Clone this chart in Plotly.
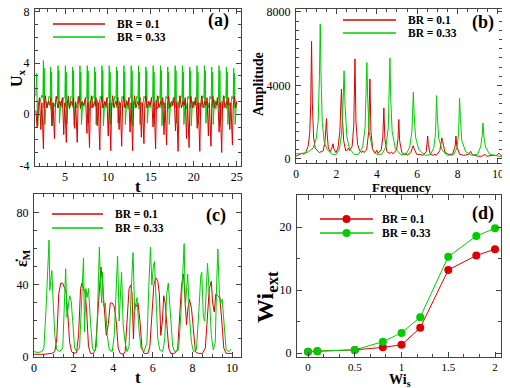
import plotly.graph_objects as go

# ---------------- data ----------------
# (a) U_x time series
ua_green_t = [
    1.60, 1.70, 1.76, 1.82, 1.95, 2.15, 2.30,
    2.42, 2.48, 2.53, 2.58, 2.65, 2.80, 2.96, 3.12,
    3.27, 3.33, 3.38, 3.43, 3.50, 3.65, 3.81, 3.97,
    4.12, 4.18, 4.23, 4.28, 4.35, 4.50, 4.66, 4.82,
    4.98, 5.04, 5.09, 5.14, 5.21, 5.36, 5.52, 5.68,
    5.83, 5.89, 5.94, 5.99, 6.06, 6.21, 6.37, 6.53,
    6.68, 6.74, 6.79, 6.84, 6.91, 7.06, 7.22, 7.38,
    7.53, 7.59, 7.64, 7.69, 7.76, 7.91, 8.07, 8.23,
    8.39, 8.45, 8.50, 8.55, 8.62, 8.77, 8.93, 9.09,
    9.24, 9.30, 9.35, 9.40, 9.47, 9.62, 9.78, 9.94,
    10.09, 10.15, 10.20, 10.25, 10.32, 10.47, 10.63, 10.79,
    10.94, 11.00, 11.05, 11.10, 11.17, 11.32, 11.48, 11.64,
    11.80, 11.86, 11.91, 11.96, 12.03, 12.18, 12.34, 12.50,
    12.65, 12.71, 12.76, 12.81, 12.88, 13.03, 13.19, 13.35,
    13.50, 13.56, 13.61, 13.66, 13.73, 13.88, 14.04, 14.20,
    14.36, 14.42, 14.47, 14.52, 14.59, 14.74, 14.90, 15.06,
    15.21, 15.27, 15.32, 15.37, 15.44, 15.59, 15.75, 15.91,
    16.06, 16.12, 16.17, 16.22, 16.29, 16.44, 16.60, 16.76,
    16.91, 16.97, 17.02, 17.07, 17.14, 17.29, 17.45, 17.61,
    17.77, 17.83, 17.88, 17.93, 18.00, 18.15, 18.31, 18.47,
    18.62, 18.68, 18.73, 18.78, 18.85, 19.00, 19.16, 19.32,
    19.47, 19.53, 19.58, 19.63, 19.70, 19.85, 20.01, 20.17,
    20.32, 20.38, 20.43, 20.48, 20.55, 20.70, 20.86, 21.02,
    21.18, 21.24, 21.29, 21.34, 21.41, 21.56, 21.72, 21.88,
    22.03, 22.09, 22.14, 22.19, 22.26, 22.41, 22.57, 22.73,
    22.88, 22.94, 22.99, 23.04, 23.11, 23.26, 23.42, 23.58,
    23.74, 23.80, 23.85, 23.90, 23.97, 24.12, 24.28, 24.44,
    24.59, 24.65, 24.70, 24.75, 24.82, 24.97,
]
ua_green_y = [
    1.4, 3.2, 0.4, -0.9, 0.6, 1.1, 1.5,
    1.3, 4.2, 0.5, 3.6, -0.8, 1.0, 0.5, 1.4,
    1.3, 3.7, 0.4, 3.3, -0.9, 0.9, 0.6, 1.4,
    1.2, 3.8, 0.5, 3.4, -0.7, 1.0, 0.5, 1.3,
    1.3, 3.8, 0.6, 3.3, -0.8, 1.1, 0.4, 1.4,
    1.3, 3.7, 0.5, 3.4, -0.9, 1.0, 0.5, 1.4,
    1.2, 3.8, 0.4, 3.3, -0.8, 0.9, 0.6, 1.3,
    1.3, 3.8, 0.5, 3.4, -0.7, 1.0, 0.5, 1.4,
    1.3, 3.7, 0.6, 3.3, -0.8, 1.1, 0.4, 1.4,
    1.2, 3.8, 0.5, 3.4, -0.9, 1.0, 0.5, 1.3,
    1.3, 3.8, 0.4, 3.3, -0.8, 0.9, 0.6, 1.4,
    1.3, 3.7, 0.5, 3.4, -0.7, 1.0, 0.5, 1.4,
    1.2, 3.8, 0.6, 3.3, -0.8, 1.1, 0.4, 1.3,
    1.3, 3.8, 0.5, 3.4, -0.9, 1.0, 0.5, 1.4,
    1.3, 3.8, 0.4, 3.3, -0.8, 0.9, 0.6, 1.4,
    1.2, 3.7, 0.5, 3.4, -0.7, 1.0, 0.5, 1.3,
    1.3, 3.8, 0.6, 3.3, -0.8, 1.1, 0.4, 1.4,
    1.3, 3.8, 0.5, 3.4, -0.9, 1.0, 0.5, 1.4,
    1.2, 3.7, 0.4, 3.3, -0.8, 0.9, 0.6, 1.3,
    1.3, 3.8, 0.5, 3.4, -0.7, 1.0, 0.5, 1.4,
    1.3, 3.8, 0.6, 3.3, -0.8, 1.1, 0.4, 1.4,
    1.2, 3.7, 0.5, 3.4, -0.9, 1.0, 0.5, 1.3,
    1.3, 3.8, 0.4, 3.3, -0.8, 0.9, 0.6, 1.4,
    1.3, 3.8, 0.5, 3.4, -0.7, 1.0, 0.5, 1.4,
    1.2, 3.7, 0.6, 3.3, -0.8, 1.1, 0.4, 1.3,
    1.3, 3.8, 0.5, 3.4, -0.9, 1.0, 0.5, 1.4,
    1.3, 3.7, 0.4, 3.3, -0.8, 0.9, 0.6, 1.4,
    1.2, 3.6, 0.5, 3.2, -0.8, 1.0,
]
ua_red_t = [
    1.60, 1.75, 1.90,
    2.03, 2.18, 2.30, 2.48, 2.58, 2.70, 2.86, 3.06, 3.20,
    3.32, 3.47, 3.59, 3.77, 3.87, 3.99, 4.15, 4.35, 4.49,
    4.70, 4.85, 4.97, 5.15, 5.25, 5.37, 5.53, 5.73, 5.87,
    5.97, 6.12, 6.24, 6.42, 6.52, 6.64, 6.80, 7.00, 7.14,
    7.40, 7.55, 7.67, 7.85, 7.95, 8.07, 8.23, 8.43, 8.57,
    8.60, 8.75, 8.87, 9.05, 9.15, 9.27, 9.43, 9.63, 9.77,
    9.88, 10.03, 10.15, 10.33, 10.43, 10.55, 10.71, 10.91, 11.05,
    11.15, 11.30, 11.42, 11.60, 11.70, 11.82, 11.98, 12.18, 12.32,
    12.43, 12.58, 12.70, 12.88, 12.98, 13.10, 13.26, 13.46, 13.60,
    13.74, 13.89, 14.01, 14.19, 14.29, 14.41, 14.57, 14.77, 14.91,
    15.10, 15.25, 15.37, 15.55, 15.65, 15.77, 15.93, 16.13, 16.27,
    16.38, 16.53, 16.65, 16.83, 16.93, 17.05, 17.21, 17.41, 17.55,
    17.72, 17.87, 17.99, 18.17, 18.27, 18.39, 18.55, 18.75, 18.89,
    19.00, 19.15, 19.27, 19.45, 19.55, 19.67, 19.83, 20.03, 20.17,
    20.25, 20.40, 20.52, 20.70, 20.80, 20.92, 21.08, 21.28, 21.42,
    21.55, 21.70, 21.82, 22.00, 22.10, 22.22, 22.38, 22.58, 22.72,
    22.80, 22.95, 23.07, 23.25, 23.35, 23.47, 23.63, 23.83, 23.97,
    24.05, 24.20, 24.32, 24.50, 24.60, 24.72, 24.88, 25.00,
]
ua_red_y = [
    0.3, -1.0, 0.8,
    1.3, -1.2, 0.9, -2.7, 0.7, 1.45, 0.5, 1.0, 0.7,
    1.3, -0.9, 0.9, -1.9, 0.7, 1.4, 0.5, 1.0, 0.7,
    1.3, -1.6, 0.9, -2.2, 0.7, 1.45, 0.5, 1.0, 0.7,
    1.3, -1.1, 0.9, -2.2, 0.7, 1.4, 0.5, 1.0, 0.7,
    1.3, -1.5, 0.9, -2.6, 0.7, 1.45, 0.5, 1.0, 0.7,
    1.3, -0.9, 0.9, -2.8, 0.7, 1.4, 0.5, 1.0, 0.7,
    1.3, -1.7, 0.9, -2.85, 0.7, 1.45, 0.5, 1.0, 0.7,
    1.3, -1.2, 0.9, -2.5, 0.7, 1.4, 0.5, 1.0, 0.7,
    1.3, -1.4, 0.9, -2.85, 0.7, 1.45, 0.5, 1.0, 0.7,
    1.3, -1.8, 0.9, -2.3, 0.7, 1.4, 0.5, 1.0, 0.7,
    1.3, -1.0, 0.9, -2.7, 0.7, 1.45, 0.5, 1.0, 0.7,
    1.3, -1.6, 0.9, -2.4, 0.7, 1.4, 0.5, 1.0, 0.7,
    1.3, -1.3, 0.9, -2.9, 0.7, 1.45, 0.5, 1.0, 0.7,
    1.3, -1.9, 0.9, -2.6, 0.7, 1.4, 0.5, 1.0, 0.7,
    1.3, -1.1, 0.9, -2.9, 0.7, 1.45, 0.5, 1.0, 0.7,
    1.3, -1.7, 0.9, -2.5, 0.7, 1.4, 0.5, 1.0, 0.7,
    1.3, -1.4, 0.9, -3.0, 0.7, 1.45, 0.5, 1.0, 0.7,
    1.3, -1.2, 0.9, -2.4, 0.7, 1.4, 0.5, 1.0,
]

# (b) amplitude spectra
fb_red_f = [
    0.0, 0.15, 0.3, 0.4, 0.5, 0.6, 0.68, 0.73, 0.77, 0.81, 0.87, 0.95,
    1.05, 1.15, 1.25, 1.35, 1.43, 1.48, 1.51, 1.54, 1.6, 1.7, 1.78, 1.83,
    1.88, 1.98, 2.08, 2.17, 2.21, 2.25, 2.29, 2.36, 2.46, 2.55, 2.6, 2.66,
    2.78, 2.86, 2.92, 2.97, 3.05, 3.15, 3.26, 3.3, 3.36, 3.5, 3.6, 3.66,
    3.71, 3.8, 3.92, 4.0, 4.06, 4.22, 4.3, 4.35, 4.4, 4.5, 4.65, 4.73,
    4.8, 4.98, 5.05, 5.09, 5.13, 5.24, 5.35, 5.42, 5.5, 5.68, 5.76, 5.8,
    5.85, 5.98, 6.15, 6.3, 6.45, 6.5, 6.52, 6.55, 6.65, 6.8, 6.88, 6.95,
    7.12, 7.2, 7.22, 7.26, 7.38, 7.58, 7.75, 7.88, 7.92, 7.96, 8.1, 8.3,
    8.55, 8.65, 8.72, 9.0, 9.2, 9.35, 9.45, 9.75, 9.95, 10.05, 10.2,
]
fb_red_a = [
    150, 220, 320, 250, 400, 700, 1400, 3000, 6400, 3000, 1200, 600,
    450, 350, 400, 450, 900, 1500, 2200, 1400, 600, 400, 600, 830,
    550, 350, 600, 1500, 2500, 3800, 2400, 1000, 450, 500, 600, 450,
    700, 1800, 5450, 2000, 800, 450, 350, 450, 350, 500, 1500, 4350,
    1500, 500, 300, 480, 300, 500, 1200, 2780, 1100, 400, 300, 380,
    280, 500, 1100, 2150, 1000, 350, 250, 320, 200, 350, 600, 720,
    550, 250, 250, 200, 400, 900, 1250, 800, 250, 200, 260, 200,
    450, 1000, 1150, 950, 350, 250, 250, 700, 1250, 700, 250, 200,
    250, 420, 250, 150, 150, 250, 150, 200, 200, 320, 150,
]
fb_green_f = [
    0.0, 0.3, 0.6, 0.85, 1.0, 1.1, 1.16, 1.2, 1.24, 1.3, 1.4, 1.55,
    1.8, 2.0, 2.15, 2.25, 2.33, 2.38, 2.43, 2.52, 2.65, 2.9, 3.1, 3.3,
    3.42, 3.48, 3.51, 3.55, 3.62, 3.78, 4.0, 4.25, 4.45, 4.57, 4.62, 4.65,
    4.69, 4.76, 4.92, 5.2, 5.45, 5.63, 5.74, 5.78, 5.81, 5.85, 5.92, 6.08,
    6.4, 6.65, 6.82, 6.91, 6.94, 6.96, 7.0, 7.07, 7.25, 7.5, 7.8, 7.97,
    8.05, 8.08, 8.1, 8.14, 8.21, 8.4, 8.7, 9.0, 9.15, 9.22, 9.26, 9.3,
    9.38, 9.6, 10.2,
]
fb_green_a = [
    280, 300, 380, 600, 1100, 2100, 4500, 7350, 4500, 2000, 900, 500,
    250, 260, 550, 1300, 3000, 4800, 2900, 1200, 550, 250, 260, 650,
    1700, 3500, 5250, 3300, 1500, 550, 250, 260, 650, 1700, 3500, 5500,
    3300, 1500, 550, 230, 250, 650, 1500, 2600, 3630, 2400, 1200, 500,
    200, 230, 600, 1400, 2400, 3450, 2300, 1100, 450, 200, 220, 600,
    1400, 2300, 3300, 2200, 1000, 400, 200, 260, 700, 1300, 1960, 1250,
    650, 250, 120,
]

# (c) strain rate time series
ec_red_t = [
    0.0, 0.5, 0.9, 1.05, 1.15, 1.25, 1.35, 1.45, 1.55, 1.62, 1.7, 1.8, 1.9,
    2.0, 2.15, 2.25, 2.35, 2.42, 2.5, 2.58, 2.66, 2.75, 2.85, 3.0, 3.1,
    3.2, 3.3, 3.38, 3.45, 3.52, 3.58, 3.65, 3.75, 3.85, 3.95, 4.05, 4.15,
    4.25, 4.35, 4.5, 4.6, 4.7, 4.8, 4.88, 4.95, 5.02, 5.08, 5.15, 5.25,
    5.35, 5.45, 5.55, 5.75, 5.85, 5.95, 6.05, 6.15, 6.25, 6.33, 6.4, 6.48,
    6.55, 6.62, 6.7, 6.8, 6.9, 7.1, 7.25, 7.35, 7.45, 7.55, 7.62, 7.7,
    7.78, 7.85, 7.95, 8.05, 8.15, 8.3, 8.5, 8.65, 8.75, 8.85, 8.95, 9.02,
    9.1, 9.18, 9.28, 9.38, 9.48, 9.58, 9.7, 10.0,
]
ec_red_y = [
    1.5, 1.5, 2, 3, 10, 35, 41, 41, 38, 36, 25, 8, 3,
    2, 2.5, 12, 38, 41, 38, 36, 25, 6, 2, 2, 4,
    20, 42, 50, 42, 30, 25, 12, 18, 30, 30, 28, 20,
    5, 2, 1.5, 3, 20, 38, 40, 35, 10, 30, 28, 30,
    20, 5, 2, 2, 6, 25, 40, 44, 42, 35, 12, 20,
    34, 30, 20, 5, 2, 2, 4, 20, 40, 46, 30, 18,
    28, 32, 27, 15, 3, 2, 2, 5, 25, 38, 42, 30,
    25, 35, 34, 33, 20, 5, 2, 2,
]
ec_green_t = [
    0.0, 0.2, 0.4, 0.5, 0.6, 0.7, 0.76, 0.8, 0.85, 0.9, 0.97, 1.05, 1.15,
    1.3, 1.45, 1.52, 1.6, 1.66, 1.73, 1.8, 1.88, 1.95, 2.05, 2.15, 2.3,
    2.4, 2.5, 2.55, 2.62, 2.68, 2.75, 2.85, 2.95, 3.05, 3.15, 3.22, 3.3,
    3.36, 3.42, 3.46, 3.52, 3.6, 3.7, 3.8, 3.95, 4.05, 4.15, 4.22, 4.3,
    4.36, 4.42, 4.5, 4.6, 4.7, 4.8, 4.9, 5.0, 5.08, 5.14, 5.2, 5.3,
    5.4, 5.55, 5.7, 5.8, 5.88, 5.95, 6.02, 6.08, 6.16, 6.25, 6.35, 6.5,
    6.6, 6.7, 6.78, 6.85, 6.92, 7.0, 7.1, 7.3, 7.42, 7.52, 7.58, 7.64,
    7.7, 7.76, 7.85, 7.95, 8.05, 8.2, 8.32, 8.42, 8.47, 8.55, 8.62, 8.7,
    8.76, 8.85, 8.95, 9.05, 9.15, 9.22, 9.28, 9.36, 9.42, 9.5, 9.6, 9.7,
    9.85, 9.95,
]
ec_green_y = [
    3, 2.5, 3, 5, 25, 55, 65, 37, 45, 48, 30, 12, 4,
    3, 5, 25, 49, 22, 30, 34, 31, 18, 5, 3, 5,
    30, 55, 14, 38, 33, 38, 20, 5, 3, 6, 30, 61,
    40, 30, 47, 28, 30, 12, 4, 3, 12, 45, 56, 20,
    32, 47, 18, 8, 3, 6, 35, 58, 25, 30, 33, 15,
    5, 3, 8, 40, 61, 40, 50, 53, 30, 10, 4, 3,
    10, 35, 41, 28, 18, 6, 3, 4, 25, 55, 63, 28,
    40, 46, 22, 8, 3, 4, 25, 45, 47, 22, 20, 45,
    52, 35, 12, 4, 8, 40, 60, 35, 30, 32, 15, 4,
    3, 4.5,
]

# (d) Wi_ext versus Wi_s
wi_s = [0, 0.1, 0.5, 0.8, 1.0, 1.2, 1.5, 1.8, 2.0]
wi_ext_red = [0.2, 0.3, 0.5, 0.9, 1.3, 4.0, 13.2, 15.5, 16.5]
wi_ext_green = [0.2, 0.3, 0.5, 1.8, 3.2, 5.7, 15.3, 18.6, 19.8]

labels = ["BR = 0.1", "BR = 0.33"]

# ---------------- styling ----------------
# the page body has an 8px margin, so the figure is 8px smaller on each
# side and all positions below are given in window pixels
OFF = 8
W, H = 510 - OFF, 388 - OFF
RED = "#dd0000"
GREEN = "#00cc00"
FR = "#444444"
SERIF = "Liberation Serif"


def px(x):
    return (x - OFF) / W


def py(y):
    return 1 - (y - OFF) / H


def axis(dom, rng, dtick, minor, anchor, standoff=2, fs=12, **kw):
    d = dict(domain=dom, range=rng, dtick=dtick, tick0=0, ticks="inside",
             ticklen=5, tickwidth=1, tickcolor=FR, showline=True,
             linecolor=FR, linewidth=1, mirror="allticks", showgrid=False,
             zeroline=False, anchor=anchor, automargin=False,
             ticklabeloverflow="allow", ticklabelstandoff=standoff,
             minor=dict(dtick=minor, tick0=0, ticks="inside", ticklen=3,
                        tickcolor=FR, showgrid=False),
             tickfont=dict(family=SERIF, size=fs, color="black"))
    d.update(kw)
    return d


fig = go.Figure()

# (a)
fig.add_trace(go.Scatter(x=ua_green_t, y=ua_green_y, mode="lines",
                         line=dict(color=GREEN, width=1), xaxis="x", yaxis="y"))
fig.add_trace(go.Scatter(x=ua_red_t, y=ua_red_y, mode="lines",
                         line=dict(color=RED, width=1), xaxis="x", yaxis="y"))
# (b)
fig.add_trace(go.Scatter(x=fb_red_f, y=fb_red_a, mode="lines",
                         line=dict(color=RED, width=1), xaxis="x2", yaxis="y2"))
fig.add_trace(go.Scatter(x=fb_green_f, y=fb_green_a, mode="lines",
                         line=dict(color=GREEN, width=1), xaxis="x2", yaxis="y2"))
# (c)
fig.add_trace(go.Scatter(x=ec_red_t, y=ec_red_y, mode="lines",
                         line=dict(color=RED, width=1), xaxis="x3", yaxis="y3"))
fig.add_trace(go.Scatter(x=ec_green_t, y=ec_green_y, mode="lines",
                         line=dict(color=GREEN, width=1), xaxis="x3", yaxis="y3"))
# (d)
fig.add_trace(go.Scatter(x=wi_s, y=wi_ext_red, mode="lines+markers",
                         line=dict(color=RED, width=1),
                         marker=dict(color=RED, size=8), xaxis="x4", yaxis="y4"))
fig.add_trace(go.Scatter(x=wi_s, y=wi_ext_green, mode="lines+markers",
                         line=dict(color=GREEN, width=1),
                         marker=dict(color=GREEN, size=8), xaxis="x4", yaxis="y4"))

fig.update_layout(
    width=W, height=H, margin=dict(l=0, r=0, t=0, b=0, pad=0),
    paper_bgcolor="white", plot_bgcolor="white", showlegend=False,
    xaxis=axis([px(35), px(241)], [1.5, 25.5], 5, 1, "y", standoff=0),
    yaxis=axis([py(166), py(8.5)], [-4.047, 8.27], 4, 1, "x",
               tickvals=[-4, 0, 4, 8], ticktext=["-4", "0", "4", "8"]),
    xaxis2=axis([px(296), px(502)], [0, 10.2], 2, 0.5, "y2", standoff=0, fs=11.5),
    yaxis2=axis([py(163), py(8.5)], [-218, 8190], 4000, 500, "x2", tickformat="d"),
    xaxis3=axis([px(34), px(241)], [0, 10.45], 2, 0.5, "y3", standoff=0),
    yaxis3=axis([py(357), py(194)], [0, 90.5], 40, 10, "x3"),
    xaxis4=axis([px(297), px(501)], [-0.118, 2.064], 0.5, 0.5 / 3, "y4",
                standoff=0, fs=11),
    yaxis4=axis([py(357), py(195)], [-0.63, 25.1], 10, 5, "x4"),
)

ann = []


def text(x, y, s, size, bold=True, angle=0, xanchor="center"):
    ann.append(dict(x=px(x), y=py(y), xref="paper", yref="paper",
                    text=f"<b>{s}</b>" if bold else s, showarrow=False,
                    textangle=angle, xanchor=xanchor, yanchor="middle",
                    font=dict(family=SERIF, size=size, color="black")))


# panel labels
text(218, 21, "(a)", 18)
text(483, 22, "(b)", 18)
text(216, 215, "(c)", 18)
text(483, 213, "(d)", 18)

# axis titles
text(17, 78, "U<sub>x</sub>", 16, angle=-90)
text(138, 186, "t", 17)
text(259, 84, "Amplitude", 14, angle=-90)
text(401, 188, "Frequency", 13)
text(22, 258, "ε̇<sub>M</sub>", 16, angle=-90)
text(138, 377, "t", 17)
text(267, 297, "Wi<sub>ext</sub>", 24, angle=-90)
text(400, 380, "Wi<sub>s</sub>", 14)

# hand-drawn legends: (line x0, x1, y red, y green, text x, markers)
shapes = []
legs = [(53, 105, 24, 37, 115, False), (343, 396, 20, 33, 406, False),
        (52, 103, 214, 228, 113, False), (320, 373, 219, 233, 380, True)]
for x0, x1, yr, yg, tx, mk in legs:
    for yy, col, lab in [(yr, RED, labels[0]), (yg, GREEN, labels[1])]:
        shapes.append(dict(type="line", xref="paper", yref="paper",
                           x0=px(x0), x1=px(x1), y0=py(yy), y1=py(yy),
                           line=dict(color=col, width=1.5)))
        if mk:
            cx = (x0 + x1) / 2
            shapes.append(dict(type="circle", xref="paper", yref="paper",
                               x0=px(cx - 4), x1=px(cx + 4),
                               y0=py(yy + 4), y1=py(yy - 4),
                               fillcolor=col, line=dict(color=col, width=0)))
        text(tx, yy, lab, 11.5, xanchor="left")

fig.update_layout(annotations=ann, shapes=shapes)
fig.write_html("out.html")
